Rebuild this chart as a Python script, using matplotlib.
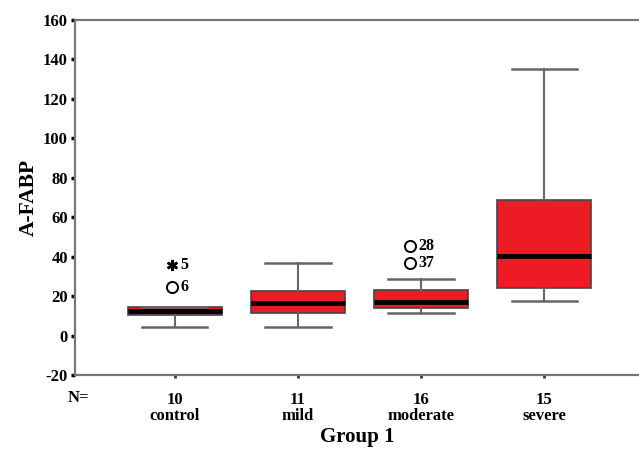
import numpy as np
import matplotlib.pyplot as plt

# values
groups = ["control", "mild", "moderate", "severe"]
counts = [10, 11, 16, 15]
whisker_low = [4.5, 4.5, 11.3, 17.7]
q1 = [10.4, 11.6, 13.8, 24.3]
median = [12.5, 16.4, 17.2, 40.4]
q3 = [14.5, 22.8, 23.1, 68.8]
whisker_high = [14.5, 36.7, 28.7, 135.0]

# outliers: (group index, value, case label)
circle_group = [0, 2, 2]
circle_value = [24.8, 37.0, 45.6]
circle_label = ["6", "37", "28"]
star_group = [0]
star_value = [35.8]
star_label = ["5"]

yticks = [-20, 0, 20, 40, 60, 80, 100, 120, 140, 160]

plt.rcParams["font.family"] = ["Liberation Serif", "DejaVu Serif"]
plt.rcParams["font.weight"] = "bold"

fig = plt.figure(figsize=(6.39, 4.53), dpi=100)
ax = fig.add_axes([0.117, 0.172, 0.883, 0.784])

positions = np.arange(1, len(groups) + 1)
stats = []
for i in range(len(groups)):
    stats.append({
        "whislo": whisker_low[i], "q1": q1[i], "med": median[i],
        "q3": q3[i], "whishi": whisker_high[i], "fliers": [],
    })

ax.bxp(stats, positions=positions, widths=0.76, patch_artist=True,
       showfliers=False,
       boxprops=dict(facecolor="#ED1C24", edgecolor="#444444", linewidth=1.2),
       medianprops=dict(color="black", linewidth=3.5),
       whiskerprops=dict(color="#666666", linewidth=1.5),
       capprops=dict(color="#666666", linewidth=1.8),
       capwidths=0.53)

# outliers
off = [-0.02, 0, -0.09, 0]
cx = [positions[g] + off[g] for g in circle_group]
ax.plot(cx, circle_value, linestyle="none", marker="o", markersize=8,
        markerfacecolor="white", markeredgecolor="black", markeredgewidth=1.4)
for x, v, lab in zip(cx, circle_value, circle_label):
    ax.annotate(lab, (x, v), xytext=(6, 0), textcoords="offset points",
                va="center", ha="left", fontsize=11.5, fontweight="bold")
sx = [positions[g] + off[g] for g in star_group]
ax.plot(sx, star_value, linestyle="none", marker=(6, 2, 0), markersize=8,
        markeredgecolor="black", markeredgewidth=1.8)
for x, v, lab in zip(sx, star_value, star_label):
    ax.annotate(lab, (x, v), xytext=(6, 0), textcoords="offset points",
                va="center", ha="left", fontsize=11.5, fontweight="bold")

ax.set_xlim(0.187, 4.77)
ax.set_ylim(-20, 160)
ax.set_yticks(yticks)
ax.set_yticklabels([str(t) for t in yticks], fontsize=12, fontweight="bold")
ax.set_xticks(positions)
ax.set_xticklabels([f"{n}\n{g}" for n, g in zip(counts, groups)],
                   fontsize=12, fontweight="bold", linespacing=1.0)

for side in ["left", "top", "bottom"]:
    ax.spines[side].set_color("#777777")
    ax.spines[side].set_linewidth(1.6)
ax.spines["right"].set_visible(False)
ax.tick_params(axis="y", length=3, width=2.5, color="black", pad=2)
ax.tick_params(axis="x", length=2, width=2, color="#333333", pad=10)

ax.set_ylabel("A-FABP", fontsize=15.5, fontweight="bold", labelpad=3)
ax.set_xlabel("Group 1", fontsize=15, fontweight="bold", labelpad=2)
fig.text(0.122, 0.121, "N=", fontsize=12, fontweight="bold", ha="center", va="center")

fig.savefig("out.png", dpi=100)
